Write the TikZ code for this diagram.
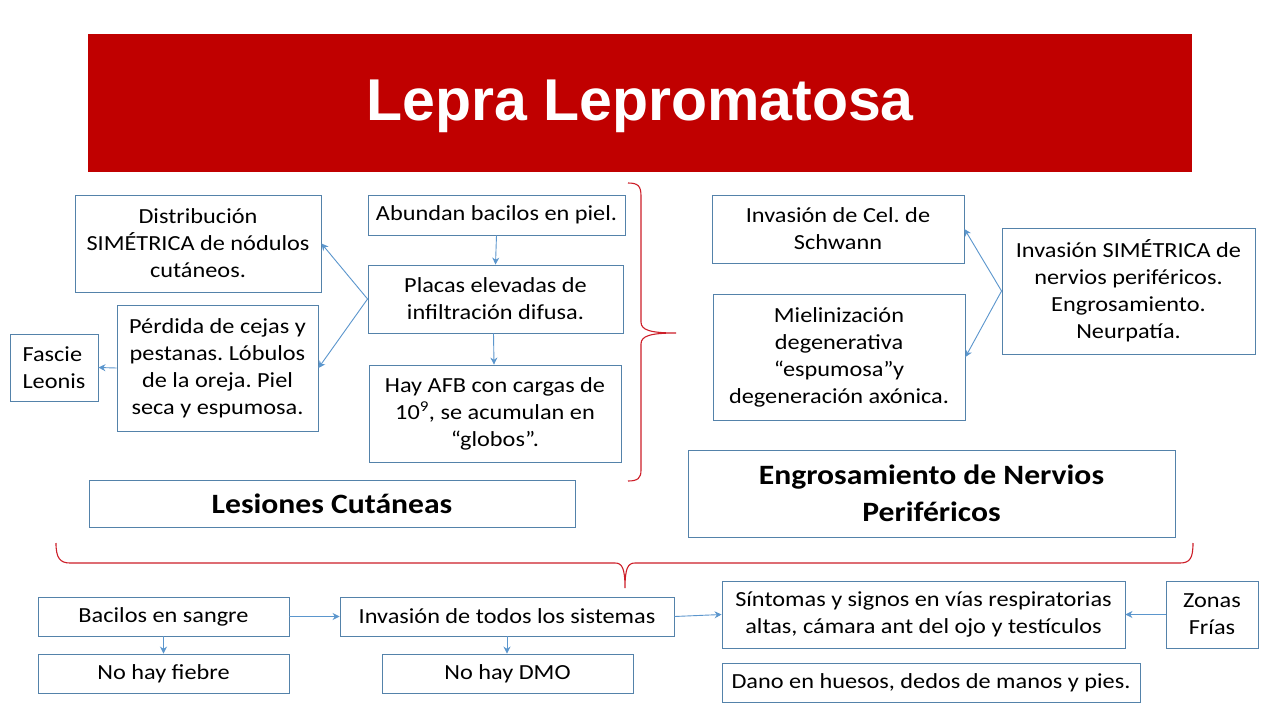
\documentclass[tikz,border=0pt]{standalone}
\usepackage{fontspec}
\setmainfont{Carlito}[FakeStretch=1.13]
\newfontfamily\titlefont{Liberation Sans}
\usetikzlibrary{arrows.meta}
\frenchspacing
\definecolor{boxc}{RGB}{84,130,170}
\definecolor{arrc}{RGB}{91,150,205}
\definecolor{bannerred}{RGB}{192,0,0}
\definecolor{bracered}{RGB}{205,30,40}
\tikzset{
  box/.style={draw=boxc, line width=0.9pt, align=center, inner sep=2pt,
    font=\fontsize{21.5}{27}\selectfont, text=black},
  headbox/.style={box, font=\bfseries\fontsize{28}{37}\selectfont},
  arr/.style={draw=arrc, line width=0.9pt, -{Stealth[length=7pt,width=7pt]}},
  brace/.style={draw=bracered, line width=1.1pt}
}
\begin{document}
\begin{tikzpicture}[x=1pt,y=-1pt]
\useasboundingbox (0,0) rectangle (1280,720);
\fill[white] (0,0) rectangle (1280,720);
% banner
\fill[bannerred] (88,34) rectangle (1192,172);
\node[font=\titlefont\bfseries\fontsize{59}{70}\selectfont, text=white] (title) at (640,106) {Lepra Lepromatosa};

% left group
\node[box, minimum width=246pt, minimum height=97pt] (dist) at (198,243.5) {Distribución\\SIMÉTRICA de nódulos\\cutáneos.};
\node[box, minimum width=257pt, minimum height=40pt] (abund) at (496.5,215) {Abundan bacilos en piel.};
\node[box, minimum width=255pt, minimum height=68pt] (placas) at (495.5,299) {Placas elevadas de\\infiltración difusa.};
\node[box, minimum width=201pt, minimum height=126pt] (perd) at (217.5,368) {Pérdida de cejas y\\pestanas. Lóbulos\\de la oreja. Piel\\seca y espumosa.};
\node[box, minimum width=88pt, minimum height=67pt, align=left] (fascie) at (54,367.5) {Fascie\\Leonis};
\node[box, minimum width=252pt, minimum height=97pt] (afb) at (495,413.5) {Hay AFB con cargas de\\10\textsuperscript{9}, se acumulan en\\“globos”.};
\node[headbox, minimum width=486pt, minimum height=47pt] (lesiones) at (332,503.5) {Lesiones Cutáneas};

% right group
\node[box, minimum width=252pt, minimum height=68pt] (cel) at (838,229) {Invasión de Cel. de\\Schwann};
\node[box, minimum width=252pt, minimum height=126pt] (miel) at (839,357) {Mielinización\\degenerativa\\“espumosa”y\\degeneración axónica.};
\node[box, minimum width=253pt, minimum height=126pt] (invsim) at (1128.5,291) {Invasión SIMÉTRICA de\\nervios periféricos.\\Engrosamiento.\\Neurpatía.};
\node[headbox, minimum width=487pt, minimum height=87pt] (engros) at (931.5,493.5) {Engrosamiento de Nervios\\Periféricos};

% bottom
\node[box, minimum width=251pt, minimum height=39pt] (bac) at (163.5,616.5) {Bacilos en sangre};
\node[box, minimum width=251pt, minimum height=39pt] (fiebre) at (163.5,673.5) {No hay fiebre};
\node[box, minimum width=334pt, minimum height=39pt] (invtodos) at (507,616.5) {Invasión de todos los sistemas};
\node[box, minimum width=251pt, minimum height=39pt] (dmo) at (507.5,673.5) {No hay DMO};
\node[box, minimum width=403pt, minimum height=67pt] (sint) at (923.5,614.5) {Síntomas y signos en vías respiratorias\\altas, cámara ant del ojo y testículos};
\node[box, minimum width=92pt, minimum height=67pt] (zonas) at (1212,614.5) {Zonas\\Frías};
\node[box, minimum width=418pt, minimum height=39pt] (dano) at (931,682.5) {Dano en huesos, dedos de manos y pies.};

% arrows
\draw[arr] (abund.south) -- (placas.north);
\draw[arr] ([xshift=-2pt]placas.south) -- ([xshift=-1pt]afb.north);
\draw[arr] (placas.west) -- (dist.east);
\draw[arr] (placas.west) -- (perd.east);
\draw[arr] (perd.west) -- (fascie.east);
\draw[arr] (invsim.west) -- (cel.east);
\draw[arr] (invsim.west) -- (miel.east);
\draw[arr] (bac.east) -- (invtodos.west);
\draw[arr] (bac.south) -- (fiebre.north);
\draw[arr] (invtodos.south) -- (invtodos.south |- dmo.north);
\draw[arr] (invtodos.east) -- (sint.west);
\draw[arr] (zonas.west) -- (sint.east);

% braces
\draw[brace] (628,183) .. controls (638,183) and (641,186) .. (641,196)
  -- (641,322) .. controls (641,330) and (650,333) .. (676,333)
  .. controls (650,333) and (641,336) .. (641,344)
  -- (641,470) .. controls (641,478) and (638,481) .. (628,481);
\draw[brace] (56,543) .. controls (56,558) and (60,563) .. (70,563)
  -- (615,563) .. controls (622,563) and (625,568) .. (625,588)
  .. controls (625,568) and (628,563) .. (635,563)
  -- (1180,563) .. controls (1190,563) and (1193,558) .. (1193,543);
\end{tikzpicture}
\end{document}
